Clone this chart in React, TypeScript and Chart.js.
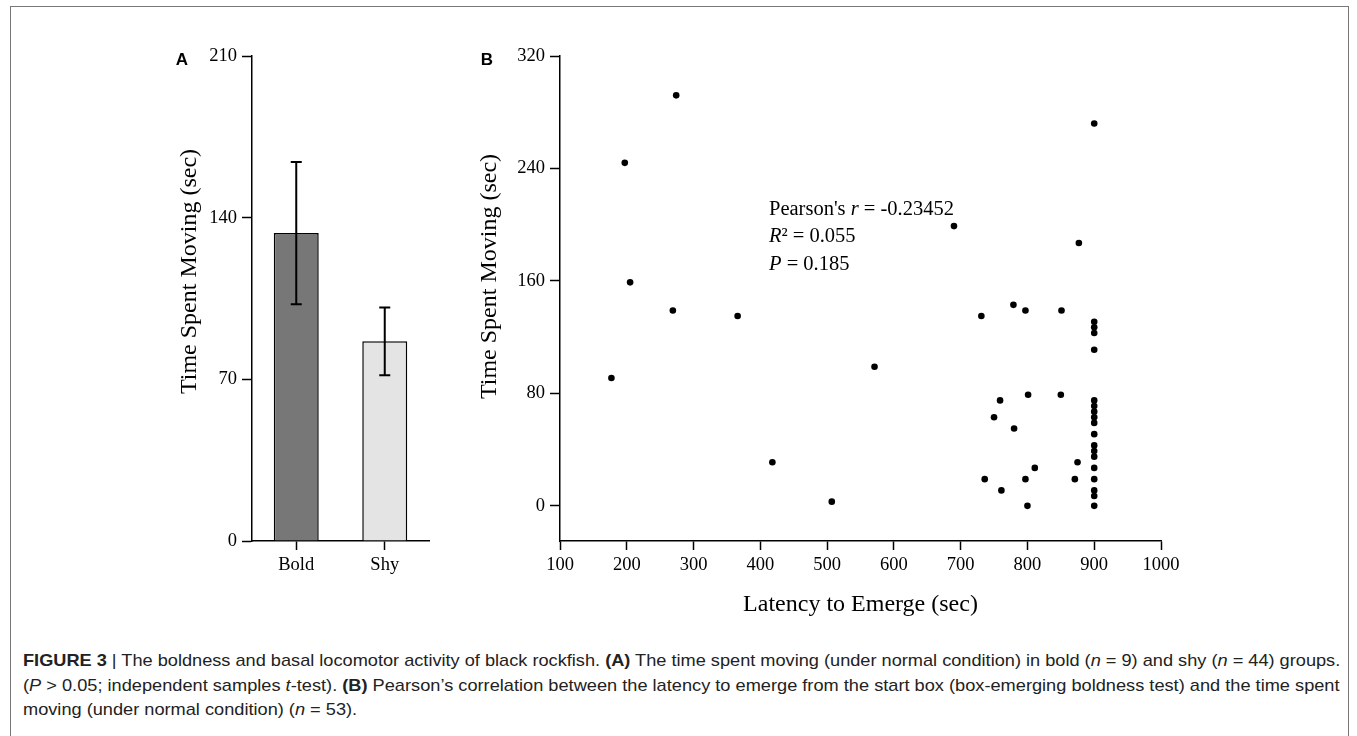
import React, { useEffect, useLayoutEffect, useRef } from "react";
import { Chart, registerables } from "chart.js";

Chart.register(...registerables);

// ---------- Panel A data ----------
const groupLabels = ["Bold", "Shy"];
const groupMeans = [133.4, 86.5];
const groupErrUp = [30.7, 14.6];
const groupErrDown = [30.9, 14.7];
const groupColors = ["#777777", "#e4e4e4"];
const yTicksA = [0, 70, 140, 210];

// ---------- Panel B data ----------
const latency = [
  274, 197, 205, 177, 269, 366, 418, 507, 571, 690, 731, 779, 797, 851, 877, 900,
  759, 801, 850, 750, 780, 875, 811, 736, 797, 871, 761, 800,
  900, 900, 900, 900, 900, 900, 900, 900, 900, 900, 900, 900, 900, 900, 900, 900, 900, 900,
];
const moving = [
  292, 244, 159, 91, 139, 135, 31, 3, 99, 199, 135, 143, 139, 139, 187, 272,
  75, 79, 79, 63, 55, 31, 27, 19, 19, 19, 11, 0,
  131, 127, 123, 111, 75, 71, 67, 63, 59, 51, 43, 39, 35, 27, 19, 11, 7, 0,
];
const xTicksB = [100, 200, 300, 400, 500, 600, 700, 800, 900, 1000];
const yTicksB = [0, 80, 160, 240, 320];
const annotationAnchor = { x: 413, y: 211 };
const annotationLines = [
  [{ t: "Pearson's " }, { t: "r", i: true }, { t: " = -0.23452" }],
  [{ t: "R", i: true }, { t: "\u00b2 = 0.055" }],
  [{ t: "P", i: true }, { t: " = 0.185" }],
];

const SERIF = '"Liberation Serif", "Times New Roman", Times, serif';
const SANS = '"Liberation Sans", Arial, Helvetica, sans-serif';

const tickFont = { family: SERIF, size: 18.5 };
const plainLabel = (v: any) => String(v);

const axisCommon = (tickLen: number) => ({
  grid: {
    display: true,
    drawOnChartArea: false,
    drawTicks: true,
    tickLength: tickLen,
    tickColor: "#000",
    tickWidth: 1.5,
    offset: false,
  },
  border: { display: true, color: "#000", width: 1.5 },
});

const errorBarPlugin = {
  id: "errorBars",
  afterDatasetsDraw(chart: any) {
    const ctx = chart.ctx;
    const meta = chart.getDatasetMeta(0);
    const ys = chart.scales.y;
    ctx.save();
    ctx.strokeStyle = "#000";
    ctx.lineWidth = 2;
    meta.data.forEach((bar: any, i: number) => {
      const x = bar.x;
      const yt = ys.getPixelForValue(groupMeans[i] + groupErrUp[i]);
      const yb = ys.getPixelForValue(groupMeans[i] - groupErrDown[i]);
      ctx.beginPath();
      ctx.moveTo(x, yt);
      ctx.lineTo(x, yb);
      ctx.moveTo(x - 5.5, yt);
      ctx.lineTo(x + 5.5, yt);
      ctx.moveTo(x - 5.5, yb);
      ctx.lineTo(x + 5.5, yb);
      ctx.stroke();
    });
    ctx.restore();
  },
};

function drawYTitle(chart: any, text: string, dx: number, dy: number) {
  const ctx = chart.ctx;
  const a = chart.chartArea;
  ctx.save();
  ctx.font = `24px ${SERIF}`;
  ctx.fillStyle = "#000";
  ctx.textAlign = "center";
  ctx.textBaseline = "middle";
  ctx.translate(a.left - dx, (a.top + a.bottom) / 2 - dy);
  ctx.rotate(-Math.PI / 2);
  ctx.fillText(text, 0, 0);
  ctx.restore();
}

function drawLetter(chart: any, letter: string, x: number, y: number) {
  const ctx = chart.ctx;
  ctx.save();
  ctx.font = `bold 17px ${SANS}`;
  ctx.fillStyle = "#000";
  ctx.textAlign = "center";
  ctx.textBaseline = "middle";
  ctx.fillText(letter, x, y);
  ctx.restore();
}

const textPluginA = {
  id: "textA",
  afterDraw(chart: any) {
    drawYTitle(chart, "Time Spent Moving (sec)", 62, 27);
    drawLetter(chart, "A", 32, 60);
  },
};

const textPluginB = {
  id: "textB",
  afterDraw(chart: any) {
    const ctx = chart.ctx;
    const a = chart.chartArea;
    drawYTitle(chart, "Time Spent Moving (sec)", 70, 22);
    drawLetter(chart, "B", 47, 60);
    ctx.save();
    ctx.font = `24px ${SERIF}`;
    ctx.fillStyle = "#000";
    ctx.textAlign = "center";
    ctx.textBaseline = "middle";
    ctx.fillText("Latency to Emerge (sec)", (a.left + a.right) / 2, a.bottom + 64);
    ctx.restore();
    const xs = chart.scales.x;
    const ys = chart.scales.y;
    const x0 = xs.getPixelForValue(annotationAnchor.x);
    const y0 = ys.getPixelForValue(annotationAnchor.y);
    ctx.save();
    ctx.fillStyle = "#000";
    ctx.textAlign = "left";
    ctx.textBaseline = "middle";
    annotationLines.forEach((runs, li) => {
      let x = x0;
      const y = y0 + li * 27.5;
      runs.forEach((r: any) => {
        ctx.font = `${r.i ? "italic " : ""}20.5px ${SERIF}`;
        ctx.fillText(r.t, x, y);
        x += ctx.measureText(r.t).width;
      });
    });
    ctx.restore();
  },
};

export default function App() {
  const refA = useRef<HTMLCanvasElement>(null);
  const refB = useRef<HTMLCanvasElement>(null);
  const capRefs = [useRef<HTMLSpanElement>(null), useRef<HTMLSpanElement>(null), useRef<HTMLSpanElement>(null)];

  useEffect(() => {
    const chartA = new Chart(refA.current!, {
      type: "bar",
      data: {
        labels: groupLabels,
        datasets: [
          {
            data: groupMeans,
            backgroundColor: groupColors,
            borderColor: "#000",
            borderWidth: 1.5,
            barPercentage: 0.508,
            categoryPercentage: 1,
          },
        ],
      },
      options: {
        responsive: false,
        animation: false,
        devicePixelRatio: 1,
        layout: { padding: { left: 0, top: 56, right: 41, bottom: 0 } },
        plugins: { legend: { display: false }, tooltip: { enabled: false } },
        scales: {
          x: {
            ...axisCommon(9),
            ticks: { color: "#000", font: tickFont, padding: 4 },
            afterFit(s: any) {
              s.height = 89;
            },
          },
          y: {
            ...axisCommon(10),
            min: 0,
            max: 210,
            ticks: { color: "#000", font: tickFont, padding: 5, callback: plainLabel },
            afterBuildTicks(s: any) {
              s.ticks = yTicksA.map((v) => ({ value: v }));
            },
            afterFit(s: any) {
              s.width = 102;
            },
          },
        },
      } as any,
      plugins: [errorBarPlugin, textPluginA],
    });

    const chartB = new Chart(refB.current!, {
      type: "scatter",
      data: {
        datasets: [
          {
            data: latency.map((x, i) => ({ x, y: moving[i] })),
            pointRadius: 3.3,
            pointHoverRadius: 3.3,
            backgroundColor: "#000",
            borderWidth: 0,
          },
        ],
      },
      options: {
        responsive: false,
        animation: false,
        devicePixelRatio: 1,
        layout: { padding: { left: 0, top: 56, right: 179, bottom: 0 } },
        plugins: { legend: { display: false }, tooltip: { enabled: false } },
        scales: {
          x: {
            ...axisCommon(9),
            type: "linear",
            min: 100,
            max: 1000,
            ticks: { color: "#000", font: tickFont, padding: 4, callback: plainLabel },
            afterBuildTicks(s: any) {
              s.ticks = xTicksB.map((v) => ({ value: v }));
            },
            afterFit(s: any) {
              s.height = 89;
            },
          },
          y: {
            ...axisCommon(10),
            min: -25,
            max: 320,
            ticks: { color: "#000", font: tickFont, padding: 5, callback: plainLabel },
            afterBuildTicks(s: any) {
              s.ticks = yTicksB.map((v) => ({ value: v }));
            },
            afterFit(s: any) {
              s.width = 120;
            },
          },
        },
      } as any,
      plugins: [textPluginB],
    });

    return () => {
      chartA.destroy();
      chartB.destroy();
    };
  }, []);

  useLayoutEffect(() => {
    const targets = [1317, 1317];
    const scales: number[] = [];
    capRefs.forEach((r, i) => {
      const el = r.current;
      if (!el) return;
      el.style.transform = "none";
      const w = el.offsetWidth;
      const s = i < 2 ? targets[i] / w : (scales[0] + scales[1]) / 2;
      scales.push(s);
      el.style.transform = `scaleX(${s})`;
    });
  }, []);

  const lineStyle: React.CSSProperties = {
    display: "inline-block",
    whiteSpace: "nowrap",
    transformOrigin: "0 0",
  };

  return (
    <div
      style={{
        position: "fixed",
        left: 0,
        top: 0,
        width: 1357,
        height: 736,
        background: "#fff",
        overflow: "hidden",
      }}
    >
      <div
        style={{
          position: "absolute",
          left: 10,
          top: 6,
          width: 1339,
          height: 760,
          border: "1px solid #777",
          boxSizing: "border-box",
        }}
      />
      <canvas ref={refA} width={320} height={630} style={{ position: "absolute", left: 150, top: 0 }} />
      <canvas ref={refB} width={900} height={630} style={{ position: "absolute", left: 440, top: 0 }} />
      <div
        style={{
          position: "absolute",
          left: 23,
          top: 649,
          fontFamily: SANS,
          fontSize: 17,
          lineHeight: "24.5px",
          color: "#222",
        }}
      >
        <div>
          <span ref={capRefs[0]} style={lineStyle}>
            <b>FIGURE 3</b> | The boldness and basal locomotor activity of black rockfish. <b>(A)</b> The time spent
            moving (under normal condition) in bold (<i>n</i> = 9) and shy (<i>n</i> = 44) groups.
          </span>
        </div>
        <div>
          <span ref={capRefs[1]} style={lineStyle}>
            (<i>P</i> &gt; 0.05; independent samples <i>t</i>-test). <b>(B)</b> Pearson{"\u2019"}s correlation between
            the latency to emerge from the start box (box-emerging boldness test) and the time spent
          </span>
        </div>
        <div>
          <span ref={capRefs[2]} style={lineStyle}>
            moving (under normal condition) (<i>n</i> = 53).
          </span>
        </div>
      </div>
    </div>
  );
}
